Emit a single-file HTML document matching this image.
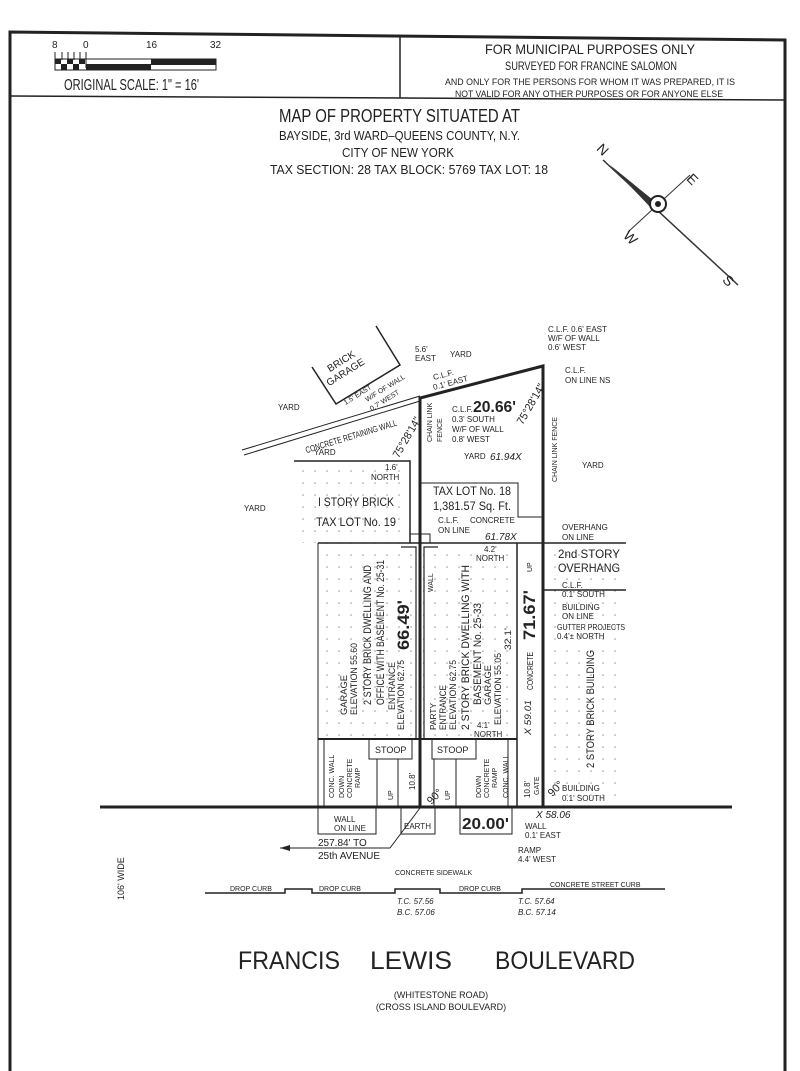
<!DOCTYPE html>
<html><head><meta charset="utf-8"><style>
html,body{margin:0;padding:0;background:#fff;}
svg{display:block;}
text{font-family:"Liberation Sans",sans-serif;fill:#222;}
</style></head><body>
<svg width="800" height="1071" viewBox="0 0 800 1071" xmlns="http://www.w3.org/2000/svg">
<defs>
<pattern id="dots" width="12" height="12" patternUnits="userSpaceOnUse"><circle cx="3" cy="3" r="0.8" fill="#999"/></pattern>
</defs>
<rect width="800" height="1071" fill="#fff"/>
<polyline points="10,1071 10,32 785,40 785,1071" fill="none" stroke="#222" stroke-width="3"/>
<line x1="10" y1="96" x2="785" y2="100" stroke="#222" stroke-width="1.5"/>
<line x1="400" y1="36" x2="400" y2="98" stroke="#222" stroke-width="1.5"/>
<text x="52" y="48" font-size="10">8</text><text x="83" y="48" font-size="10">0</text>
<text x="146" y="48" font-size="10">16</text><text x="210" y="48" font-size="10">32</text>
<g stroke="#222" stroke-width="1">
<line x1="55" y1="52" x2="55" y2="68"/><line x1="62" y1="52" x2="62" y2="60"/><line x1="68" y1="52" x2="68" y2="60"/><line x1="74" y1="52" x2="74" y2="60"/><line x1="80" y1="52" x2="80" y2="60"/><line x1="86" y1="52" x2="86" y2="68"/>
<rect x="55" y="59" width="161" height="11" fill="none"/>
</g>
<rect x="55" y="59" width="6" height="5" fill="#222"/><rect x="67" y="59" width="6" height="5" fill="#222"/><rect x="79" y="59" width="6" height="5" fill="#222"/>
<rect x="61" y="64" width="6" height="6" fill="#222"/><rect x="73" y="64" width="6" height="6" fill="#222"/>
<rect x="86" y="64" width="65" height="6" fill="#222"/><rect x="151" y="59" width="65" height="6" fill="#222"/>
<text x="64" y="90" font-size="16" textLength="135" lengthAdjust="spacingAndGlyphs" font-weight="300">ORIGINAL  SCALE:  1"  =  16'</text>
<text x="485" y="54" font-size="14" textLength="210" lengthAdjust="spacingAndGlyphs">FOR MUNICIPAL PURPOSES ONLY</text>
<text x="505" y="70" font-size="12" textLength="172" lengthAdjust="spacingAndGlyphs">SURVEYED FOR FRANCINE SALOMON</text>
<text x="445" y="85" font-size="9" textLength="290" lengthAdjust="spacingAndGlyphs">AND ONLY FOR THE PERSONS FOR WHOM IT WAS PREPARED, IT IS</text>
<text x="455" y="97" font-size="9" textLength="268" lengthAdjust="spacingAndGlyphs">NOT VALID FOR ANY OTHER PURPOSES OR FOR ANYONE ELSE</text>
<text x="279" y="122" font-size="18" textLength="241" lengthAdjust="spacingAndGlyphs">MAP OF PROPERTY SITUATED AT</text>
<text x="279" y="140" font-size="13" textLength="241" lengthAdjust="spacingAndGlyphs">BAYSIDE, 3rd WARD–QUEENS COUNTY, N.Y.</text>
<text x="342" y="157" font-size="13" textLength="112" lengthAdjust="spacingAndGlyphs">CITY OF NEW YORK</text>
<text x="270" y="174" font-size="13" textLength="278" lengthAdjust="spacingAndGlyphs">TAX SECTION: 28 TAX BLOCK: 5769 TAX LOT: 18</text>
<line x1="603" y1="160" x2="738" y2="285" stroke="#333" stroke-width="1.5"/>
<polygon points="658,204 610,165 653,210" fill="#333"/>
<line x1="628" y1="232" x2="690" y2="175" stroke="#333" stroke-width="1"/>
<circle cx="658" cy="204" r="8" fill="#fff" stroke="#222" stroke-width="2"/>
<circle cx="658" cy="204" r="3" fill="#222"/>
<text x="598" y="152" font-size="14" transform="rotate(45 600 148)">N</text>
<text x="688" y="182" font-size="14" transform="rotate(45 690 178)">E</text>
<text x="625" y="240" font-size="14" transform="rotate(45 628 235)">W</text>
<text x="724" y="285" font-size="14" transform="rotate(45 728 280)">S</text>
<rect x="294" y="461" width="116" height="82" fill="url(#dots)"/>
<rect x="318" y="543" width="97" height="196" fill="url(#dots)"/>
<rect x="423" y="543" width="94" height="196" fill="url(#dots)"/>
<rect x="545" y="543" width="81" height="265" fill="url(#dots)"/>
<g stroke="#222" fill="none">
<polyline points="376,326 400,365 336,404 312,367" stroke-width="1.5"/>
<line x1="242" y1="450" x2="420" y2="396" stroke-width="1"/>
<line x1="244" y1="455" x2="420" y2="401" stroke-width="1"/>
<polyline points="420,808 420,398 543,366 543,808" stroke-width="3"/>
<line x1="318" y1="543" x2="626" y2="543" stroke-width="1.5"/>
<polyline points="294,461 410,461 410,543" stroke-width="1.5"/>
<polyline points="420,483 518,483 518,517 543,517" stroke-width="1"/>
<rect x="410" y="534" width="20" height="9" stroke-width="1"/>
<polyline points="318,543 318,808" stroke-width="1"/>
<polyline points="401,547 416,547 416,739" stroke-width="1.2"/>
<polyline points="438,547 424,547 424,739" stroke-width="1.2"/>
<polyline points="517,543 517,808" stroke-width="1.5"/>
<line x1="318" y1="739" x2="517" y2="739" stroke-width="2"/>
<line x1="543" y1="590" x2="626" y2="590" stroke-width="1.5"/>
<line x1="543" y1="543" x2="543" y2="808" stroke-width="3"/>
<rect x="369" y="739" width="43" height="20" stroke-width="1"/>
<rect x="377" y="759" width="21" height="49" stroke-width="1"/>
<rect x="432" y="739" width="44" height="20" stroke-width="1"/>
<rect x="434" y="759" width="22" height="49" stroke-width="1"/>
<line x1="324" y1="739" x2="324" y2="808" stroke-width="1"/>
<line x1="508" y1="739" x2="508" y2="808" stroke-width="1"/>
<line x1="100" y1="807" x2="732" y2="807" stroke-width="3"/>
<rect x="318" y="808" width="58" height="26" stroke-width="1"/>
<rect x="401" y="808" width="34" height="26" stroke-width="1"/>
<rect x="460" y="808" width="52" height="26" stroke-width="1"/>
<line x1="280" y1="848" x2="390" y2="848" stroke-width="1"/>
<line x1="390" y1="848" x2="420" y2="808" stroke-width="1"/>
<polyline points="205,893 285,893 285,889 312,889 312,893 395,893 395,889 440,889 440,893 522,893 522,889 665,889" stroke-width="1.5"/>
</g>
<polygon points="280,848 290,845 290,851" fill="#222"/>
<g font-size="8">
<text x="325" y="365" transform="rotate(-32 340 360)" font-size="10">BRICK</text>
<text x="322" y="378" transform="rotate(-32 340 370)" font-size="10">GARAGE</text>
<text x="340" y="398" transform="rotate(-32 355 392)" font-size="7">1.5' EAST</text>
<text x="362" y="396" transform="rotate(-32 375 390)" font-size="7">W/F OF WALL</text>
<text x="367" y="405" transform="rotate(-32 380 400)" font-size="7">0.7' WEST</text>
<text x="415" y="352">5.6'</text><text x="415" y="361">EAST</text>
<text x="450" y="357">YARD</text>
<text x="433" y="377" transform="rotate(-15 445 375)">C.L.F.</text>
<text x="433" y="387" transform="rotate(-15 445 385)">0.1' EAST</text>
<text x="452" y="412">C.L.F.</text>
<text x="452" y="422">0.3' SOUTH</text>
<text x="452" y="432">W/F OF WALL</text>
<text x="452" y="442">0.8' WEST</text>
<text x="473" y="412" font-size="16" font-weight="bold" textLength="43" lengthAdjust="spacingAndGlyphs">20.66'</text>
<text x="508" y="420" font-size="11" transform="rotate(-60 520 410)" textLength="45" lengthAdjust="spacingAndGlyphs">75°28'14"</text>
<text x="385" y="455" font-size="11" transform="rotate(-60 395 445)" textLength="45" lengthAdjust="spacingAndGlyphs">75°28'14"</text>
<text x="305" y="443" font-size="9" transform="rotate(-17 340 443)" textLength="95" lengthAdjust="spacingAndGlyphs">CONCRETE RETAINING WALL</text>
<text x="548" y="332">C.L.F. 0.6' EAST</text>
<text x="548" y="341">W/F OF WALL</text>
<text x="548" y="350">0.6' WEST</text>
<text x="565" y="373">C.L.F.</text><text x="565" y="383">ON LINE NS</text>
<text x="278" y="410">YARD</text><text x="314" y="455">YARD</text>
<text x="244" y="511">YARD</text><text x="464" y="459">YARD</text><text x="582" y="468">YARD</text>
<text x="490" y="460" font-style="italic" font-size="10">61.94X</text>
<text x="430" y="440" transform="rotate(-90 432 440)" font-size="7">CHAIN LINK</text>
<text x="440" y="440" transform="rotate(-90 442 440)" font-size="7">FENCE</text>
<text x="555" y="480" transform="rotate(-90 557 480)" font-size="7">CHAIN LINK FENCE</text>
<text x="385" y="470">1.6'</text><text x="371" y="480">NORTH</text>
<text x="318" y="506" font-size="12" textLength="76" lengthAdjust="spacingAndGlyphs">I STORY BRICK</text>
<text x="316" y="526" font-size="12" textLength="80" lengthAdjust="spacingAndGlyphs">TAX LOT No. 19</text>
<text x="433" y="495" font-size="12" textLength="78" lengthAdjust="spacingAndGlyphs">TAX LOT No. 18</text>
<text x="433" y="510" font-size="12" textLength="78" lengthAdjust="spacingAndGlyphs">1,381.57 Sq. Ft.</text>
<text x="438" y="523">C.L.F.</text><text x="470" y="523">CONCRETE</text><text x="438" y="533">ON LINE</text>
<text x="485" y="540" font-style="italic" font-size="10">61.78X</text>
<text x="562" y="530">OVERHANG</text><text x="562" y="540">ON LINE</text>
<text x="484" y="552">4.2'</text><text x="476" y="561">NORTH</text>
<text x="558" y="558" font-size="12" textLength="62" lengthAdjust="spacingAndGlyphs">2nd STORY</text><text x="558" y="572" font-size="12" textLength="62" lengthAdjust="spacingAndGlyphs">OVERHANG</text>
<text x="562" y="588">C.L.F.</text><text x="562" y="597">0.1' SOUTH</text>
<text x="562" y="610">BUILDING</text><text x="562" y="619">ON LINE</text>
<text x="557" y="630" textLength="68" lengthAdjust="spacingAndGlyphs">GUTTER PROJECTS</text><text x="557" y="639">0.4'± NORTH</text>
<text x="530" y="570" transform="rotate(-90 532 570)" font-size="7">UP</text>
<text x="431" y="590" transform="rotate(-90 433 590)" font-size="7">WALL</text>
</g>
<g font-size="9">
<text transform="translate(347,715) rotate(-90)" textLength="40" lengthAdjust="spacingAndGlyphs">GARAGE</text>
<text transform="translate(357,715) rotate(-90)" textLength="72" lengthAdjust="spacingAndGlyphs">ELEVATION 55.60</text>
<text transform="translate(371,705) rotate(-90)" font-size="11" textLength="140" lengthAdjust="spacingAndGlyphs">2 STORY BRICK DWELLING AND</text>
<text transform="translate(384,705) rotate(-90)" font-size="11" textLength="145" lengthAdjust="spacingAndGlyphs">OFFICE WITH BASEMENT No. 25-31</text>
<text transform="translate(395,710) rotate(-90)" textLength="48" lengthAdjust="spacingAndGlyphs">ENTRANCE</text>
<text transform="translate(404,730) rotate(-90)" textLength="70" lengthAdjust="spacingAndGlyphs">ELEVATION 62.75</text>
<text transform="translate(409,650) rotate(-90)" font-size="17" font-weight="bold" textLength="50" lengthAdjust="spacingAndGlyphs">66.49'</text>
<text transform="translate(436,730) rotate(-90)" font-size="8" textLength="27" lengthAdjust="spacingAndGlyphs">PARTY</text>
<text transform="translate(446,730) rotate(-90)" textLength="45" lengthAdjust="spacingAndGlyphs">ENTRANCE</text>
<text transform="translate(456,730) rotate(-90)" textLength="70" lengthAdjust="spacingAndGlyphs">ELEVATION 62.75</text>
<text transform="translate(469,730) rotate(-90)" font-size="11" textLength="165" lengthAdjust="spacingAndGlyphs">2 STORY BRICK DWELLING WITH</text>
<text transform="translate(481,705) rotate(-90)" font-size="11" textLength="102" lengthAdjust="spacingAndGlyphs">BASEMENT No. 25-33</text>
<text transform="translate(491,705) rotate(-90)" textLength="40" lengthAdjust="spacingAndGlyphs">GARAGE</text>
<text transform="translate(501,725) rotate(-90)" textLength="72" lengthAdjust="spacingAndGlyphs">ELEVATION 55.05</text>
<text transform="translate(511,650) rotate(-90)" textLength="22" lengthAdjust="spacingAndGlyphs">32.1'</text>
<text transform="translate(533,690) rotate(-90)" font-size="8" textLength="38" lengthAdjust="spacingAndGlyphs">CONCRETE</text>
<text transform="translate(535,640) rotate(-90)" font-size="17" font-weight="bold" textLength="50" lengthAdjust="spacingAndGlyphs">71.67'</text>
<text transform="translate(531,735) rotate(-90)" font-style="italic" textLength="35" lengthAdjust="spacingAndGlyphs">X 59.01</text>
<text transform="translate(594,768) rotate(-90)" font-size="11" textLength="118" lengthAdjust="spacingAndGlyphs">2 STORY BRICK BUILDING</text>
</g>
<g font-size="8">
<text x="477" y="728">4.1'</text><text x="474" y="737">NORTH</text>
<text x="375" y="753" font-size="9">STOOP</text><text x="437" y="753" font-size="9">STOOP</text>
<text transform="translate(334,798) rotate(-90)" font-size="7">CONC. WALL</text>
<text transform="translate(344,798) rotate(-90)" font-size="7">DOWN</text>
<text transform="translate(352,798) rotate(-90)" font-size="7">CONCRETE</text>
<text transform="translate(360,788) rotate(-90)" font-size="7">RAMP</text>
<text transform="translate(393,800) rotate(-90)" font-size="7">UP</text>
<text transform="translate(415,790) rotate(-90)">10.8'</text>
<text transform="translate(450,800) rotate(-90)" font-size="7">UP</text>
<text transform="translate(481,798) rotate(-90)" font-size="7">DOWN</text>
<text transform="translate(489,798) rotate(-90)" font-size="7">CONCRETE</text>
<text transform="translate(497,788) rotate(-90)" font-size="7">RAMP</text>
<text transform="translate(508,798) rotate(-90)" font-size="7">CONC. WALL</text>
<text transform="translate(530,798) rotate(-90)">10.8'</text>
<text transform="translate(539,795) rotate(-90)" font-size="7">GATE</text>
<text x="548" y="793" font-size="11" transform="rotate(-45 555 790)">90°</text>
<text x="428" y="803" font-size="11" transform="rotate(-45 432 800)">90°</text>
<text x="562" y="791">BUILDING</text><text x="562" y="801">0.1' SOUTH</text>
<text x="536" y="818" font-style="italic" font-size="10">X 58.06</text>
<text x="334" y="822">WALL</text><text x="334" y="831">ON LINE</text>
<text x="404" y="829">EARTH</text>
<text x="462" y="829" font-size="16" font-weight="bold" textLength="47" lengthAdjust="spacingAndGlyphs">20.00'</text>
<text x="525" y="829">WALL</text><text x="525" y="838">0.1' EAST</text>
<text x="518" y="853">RAMP</text><text x="518" y="862">4.4' WEST</text>
<text x="318" y="846" font-size="10">257.84' TO</text>
<text x="318" y="859" font-size="10">25th AVENUE</text>
<text x="395" y="875" font-size="7">CONCRETE SIDEWALK</text>
<text x="230" y="891" font-size="7">DROP CURB</text>
<text x="319" y="891" font-size="7">DROP CURB</text>
<text x="459" y="891" font-size="7">DROP CURB</text>
<text x="550" y="887" font-size="7">CONCRETE STREET CURB</text>
<text x="397" y="904" font-size="8" font-style="italic">T.C. 57.56</text>
<text x="397" y="915" font-size="8" font-style="italic">B.C. 57.06</text>
<text x="518" y="904" font-size="8" font-style="italic">T.C. 57.64</text>
<text x="518" y="915" font-size="8" font-style="italic">B.C. 57.14</text>
<text transform="translate(124,900) rotate(-90)" font-size="9">106' WIDE</text>
</g>
<text x="238" y="969" font-size="25" textLength="102" lengthAdjust="spacingAndGlyphs">FRANCIS</text>
<text x="370" y="969" font-size="25" textLength="82" lengthAdjust="spacingAndGlyphs">LEWIS</text>
<text x="495" y="969" font-size="25" textLength="140" lengthAdjust="spacingAndGlyphs">BOULEVARD</text>
<text x="441" y="998" font-size="9" text-anchor="middle">(WHITESTONE ROAD)</text>
<text x="441" y="1010" font-size="9" text-anchor="middle">(CROSS ISLAND BOULEVARD)</text>
</svg>
</body></html>
